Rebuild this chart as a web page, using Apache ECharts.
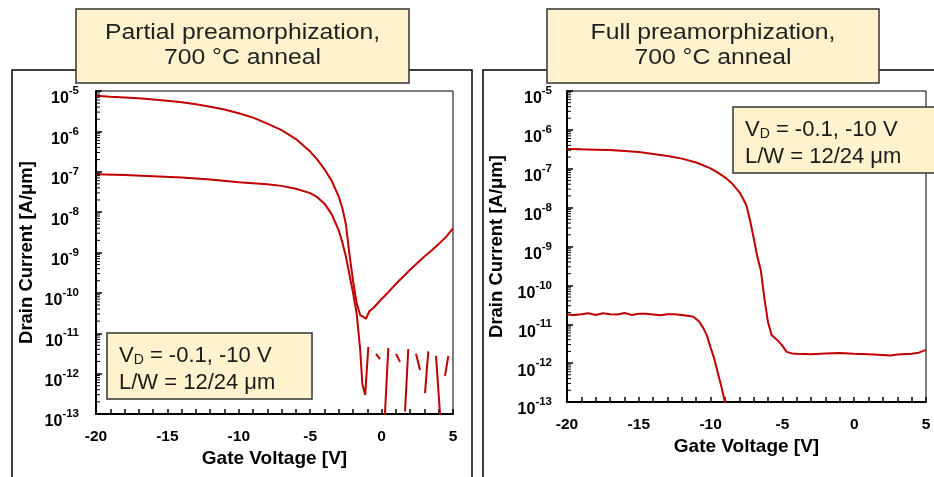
<!DOCTYPE html>
<html>
<head>
<meta charset="utf-8">
<script src="https://cdn.jsdelivr.net/npm/echarts@6/dist/echarts.min.js"></script>
<style>
  html, body { margin: 0; padding: 0; background: #fff; }
  #chart { width: 934px; height: 477px; }
</style>
</head>
<body>
<div id="chart"></div>
<script>
// Gate-voltage axis ticks and drain-current decades
const gateTicks = [-20, -15, -10, -5, 0, 5];
const currentDecades = [-13, -12, -11, -10, -9, -8, -7, -6, -5];

// Partial preamorphization, 700 °C anneal — VD = -10 V
const partialVgHigh = [-20, -19, -18, -17, -16, -15, -14, -13, -12, -11, -10, -9, -8, -7, -6, -5, -4.5, -4, -3.5, -3, -2.75, -2.5, -2.25, -2, -1.75, -1.5, -1.25, -1.1, -0.85, -0.6, -0.3, 0, 0.5, 1, 1.5, 2, 2.5, 3, 3.5, 4, 4.5, 5];
const partialIdHigh = [7.59e-6, 7.24e-6, 6.92e-6, 6.61e-6, 6.17e-6, 5.75e-6, 5.25e-6, 4.68e-6, 4.07e-6, 3.47e-6, 2.82e-6, 2.19e-6, 1.55e-6, 1.07e-6, 6.46e-7, 3.16e-7, 2.0e-7, 1.15e-7, 6.03e-8, 2.40e-8, 1.26e-8, 5.01e-9, 8.91e-10, 2.0e-10, 5.62e-11, 2.82e-11, 2.51e-11, 2.29e-11, 3.55e-11, 4.17e-11, 5.37e-11, 7.08e-11, 1.07e-10, 1.66e-10, 2.51e-10, 3.72e-10, 5.50e-10, 7.94e-10, 1.12e-9, 1.62e-9, 2.40e-9, 3.98e-9];

// Partial preamorphization — VD = -0.1 V (null = reading not positive)
const partialVgLow = [-20, -18, -16, -14, -12, -10, -8, -7, -6, -5, -4.5, -4, -3.5, -3, -2.75, -2.5, -2.25, -2, -1.75, -1.5, -1.35, -1.15, -0.93, -0.65, -0.39, -0.11, 0.05, 0.19, 0.47, 0.75, 1.01, 1.29, 1.45, 1.64, 1.87, 2.15, 2.41, 2.69, 2.85, 3.04, 3.27, 3.55, 3.81, 4.15, 4.3, 4.44, 4.67];
const partialIdLow = [8.71e-8, 8.32e-8, 7.76e-8, 7.24e-8, 6.46e-8, 5.50e-8, 4.90e-8, 4.47e-8, 3.80e-8, 2.95e-8, 2.34e-8, 1.62e-8, 8.91e-9, 3.55e-9, 1.78e-9, 7.94e-10, 2.82e-10, 1.0e-10, 3.16e-11, 3.98e-12, 5.62e-13, 2.95e-13, 4.57e-12, null, 3.09e-12, 2.29e-12, null, 5.0e-14, 4.27e-12, null, 3.09e-12, 1.95e-12, null, 1.15e-13, 4.07e-12, null, 3.09e-12, 1.23e-12, null, 3.31e-13, 3.55e-12, null, 2.75e-12, 5.0e-14, null, 8.71e-13, 2.75e-12];

// Full preamorphization, 700 °C anneal — VD = -10 V
const fullVgHigh = [-20, -19, -18, -17, -16, -15, -14, -13, -12, -11, -10, -9.5, -9, -8.5, -8, -7.75, -7.5, -7.25, -7, -6.75, -6.5, -6.25, -6, -5.75, -5.4, -5.05, -4.7, -4.35, -4, -3, -2, -1, 0, 1, 2, 2.5, 3, 4, 4.5, 5];
const fullIdHigh = [3.24e-7, 3.16e-7, 3.09e-7, 3.02e-7, 2.88e-7, 2.69e-7, 2.40e-7, 2.14e-7, 1.82e-7, 1.45e-7, 1.02e-7, 7.94e-8, 6.03e-8, 4.17e-8, 2.51e-8, 1.74e-8, 1.12e-8, 4.68e-9, 1.66e-9, 5.62e-10, 2.40e-10, 4.47e-11, 1.12e-11, 5.25e-12, 4.07e-12, 2.95e-12, 1.95e-12, 1.78e-12, 1.74e-12, 1.70e-12, 1.78e-12, 1.82e-12, 1.74e-12, 1.70e-12, 1.62e-12, 1.58e-12, 1.66e-12, 1.74e-12, 1.86e-12, 2.19e-12];

// Full preamorphization — VD = -0.1 V
const fullVgLow = [-20, -19.5, -19, -18.5, -18, -17.5, -17, -16.5, -16, -15.5, -15, -14.5, -14, -13.5, -13, -12.5, -12, -11.5, -11.2, -10.8, -10.5, -10.25, -10, -9.75, -9.5, -9.25, -9, -8.8];
const fullIdLow = [1.78e-11, 1.74e-11, 1.82e-11, 1.91e-11, 1.74e-11, 1.91e-11, 1.82e-11, 1.78e-11, 1.95e-11, 1.74e-11, 1.86e-11, 1.86e-11, 1.78e-11, 1.70e-11, 1.82e-11, 1.82e-11, 1.74e-11, 1.62e-11, 1.55e-11, 1.17e-11, 7.94e-12, 5.01e-12, 2.51e-12, 1.32e-12, 5.62e-13, 2.51e-13, 1.0e-13, 5.01e-14];

const FONT = '"Liberation Sans", Arial, sans-serif';
const RED = '#C00000';
const BEIGE = '#FFF2CC';

function pairs(xs, ys) {
  return xs.map((x, i) => [x, ys[i] == null ? '-' : ys[i]]);
}

// log-scale minor tick positions (2..9 × each decade)
const minorTickValues = [];
for (let i = 0; i < currentDecades.length - 1; i++) {
  for (let k = 2; k <= 9; k++) minorTickValues.push([gateTicks[0], k * Math.pow(10, currentDecades[i])]);
}

function xAxisCfg(gridIndex) {
  return {
    type: 'value', gridIndex, min: gateTicks[0], max: gateTicks[gateTicks.length - 1], interval: 5,
    axisLine: { onZero: false, lineStyle: { color: '#000', width: 2 } },
    axisTick: { inside: true, length: 5, lineStyle: { color: '#000', width: 1.5 } },
    minorTick: { show: true, splitNumber: 5, length: 5, lineStyle: { color: '#000', width: 1.5 } },
    splitLine: { show: false },
    axisLabel: { color: '#000', fontFamily: FONT, fontWeight: 'bold', fontSize: 15.5, margin: 15 }
  };
}

function yAxisCfg(gridIndex, margin) {
  return {
    type: 'log', logBase: 10, gridIndex,
    min: Math.pow(10, currentDecades[0]), max: Math.pow(10, currentDecades[currentDecades.length - 1]), interval: 1,
    axisLine: { onZero: false, lineStyle: { color: '#000', width: 2 } },
    axisTick: { inside: true, length: 6, lineStyle: { color: '#000', width: 1.5 } },
    splitLine: { show: false },
    axisLabel: {
      margin, padding: [10, 0, 0, 0],
      formatter: v => '{b|10}{s|' + Math.round(Math.log10(v)) + '}',
      rich: {
        b: { fontFamily: FONT, fontWeight: 'bold', fontSize: 16, color: '#000', lineHeight: 22, verticalAlign: 'bottom' },
        s: { fontFamily: FONT, fontWeight: 'bold', fontSize: 11.5, color: '#000', lineHeight: 14, verticalAlign: 'top' }
      }
    }
  };
}

function curve(idx, xs, ys) {
  return {
    type: 'line', xAxisIndex: idx, yAxisIndex: idx, data: pairs(xs, ys),
    showSymbol: false, symbol: 'none', connectNulls: false, clip: true, silent: true,
    lineStyle: { color: RED, width: 2 }, z: 3
  };
}

function minorTicks(idx) {
  return {
    type: 'custom', xAxisIndex: idx, yAxisIndex: idx, data: minorTickValues, silent: true, clip: false, z: 4,
    renderItem: (params, api) => {
      const p = api.coord([api.value(0), api.value(1)]);
      return { type: 'line', shape: { x1: p[0], y1: p[1], x2: p[0] + 4, y2: p[1] }, style: { stroke: '#000', lineWidth: 1 } };
    }
  };
}

function annotation(x, y, w, h) {
  return [
    { type: 'rect', z: 100, shape: { x, y, width: w, height: h }, style: { fill: BEIGE, stroke: '#333', lineWidth: 1.5 } },
    { type: 'text', z: 101, x: x + 12, y: y + 7,
      style: {
        text: '{v|V}{d|D}{v| = -0.1, -10 V}\n{v|L/W = 12/24 μm}',
        textVerticalAlign: 'top', textAlign: 'left',
        rich: {
          v: { fontFamily: FONT, fontSize: 22, lineHeight: 27, fill: '#1a1a1a', verticalAlign: 'bottom' },
          d: { fontFamily: FONT, fontSize: 14, lineHeight: 12, fill: '#1a1a1a', verticalAlign: 'bottom' }
        }
      } }
  ];
}

function titleBox(x, w, text) {
  return [
    { type: 'rect', z: 50, shape: { x, y: 9, width: w, height: 74 }, style: { fill: BEIGE, stroke: '#333', lineWidth: 1.5 } },
    { type: 'text', z: 51, x: x + w / 2, y: 45, scaleX: 1.1,
      style: { text, font: '22.5px ' + FONT, lineHeight: 25, fill: '#222', textAlign: 'center', textVerticalAlign: 'middle' } }
  ];
}

function axisTitles(xCenter, xY, yX, yCenter) {
  return [
    { type: 'text', z: 10, x: xCenter, y: xY,
      style: { text: 'Gate Voltage [V]', font: 'bold 19px ' + FONT, fill: '#000', textAlign: 'center', textVerticalAlign: 'middle' } },
    { type: 'text', z: 10, x: yX, y: yCenter, rotation: Math.PI / 2,
      style: { text: 'Drain Current [A/μm]', font: 'bold 18.5px ' + FONT, fill: '#000', textAlign: 'center', textVerticalAlign: 'middle' } }
  ];
}

const chart = echarts.init(document.getElementById('chart'), null, { renderer: 'canvas' });
chart.setOption({
  animation: false,
  backgroundColor: '#fff',
  grid: [
    { left: 96, top: 91, width: 357, height: 323, show: true, borderColor: '#000', borderWidth: 1, backgroundColor: 'transparent' },
    { left: 567, top: 91, width: 359, height: 311, show: true, borderColor: '#000', borderWidth: 1, backgroundColor: 'transparent' }
  ],
  xAxis: [xAxisCfg(0), xAxisCfg(1)],
  yAxis: [yAxisCfg(0, 17), yAxisCfg(1, 15)],
  series: [
    curve(0, partialVgHigh, partialIdHigh),
    curve(0, partialVgLow, partialIdLow),
    curve(1, fullVgHigh, fullIdHigh),
    curve(1, fullVgLow, fullIdLow),
    minorTicks(0),
    minorTicks(1)
  ],
  graphic: [
    // panel frames
    { type: 'polyline', z: 1, shape: { points: [[12, 500], [12, 70], [472, 70], [472, 500]] }, style: { stroke: '#000', lineWidth: 1.5, fill: null } },
    { type: 'polyline', z: 1, shape: { points: [[483, 500], [483, 70], [960, 70]] }, style: { stroke: '#000', lineWidth: 1.5, fill: null } },
    ...titleBox(76, 333, 'Partial preamorphization,\n700 °C anneal'),
    ...titleBox(547, 332, 'Full preamorphization,\n700 °C anneal'),
    ...axisTitles(274.5, 459, 27, 252.5),
    ...axisTitles(746.5, 447, 497, 246.5),
    ...annotation(107, 333, 205, 66),
    ...annotation(733, 107, 215, 66)
  ]
});
</script>
</body>
</html>
